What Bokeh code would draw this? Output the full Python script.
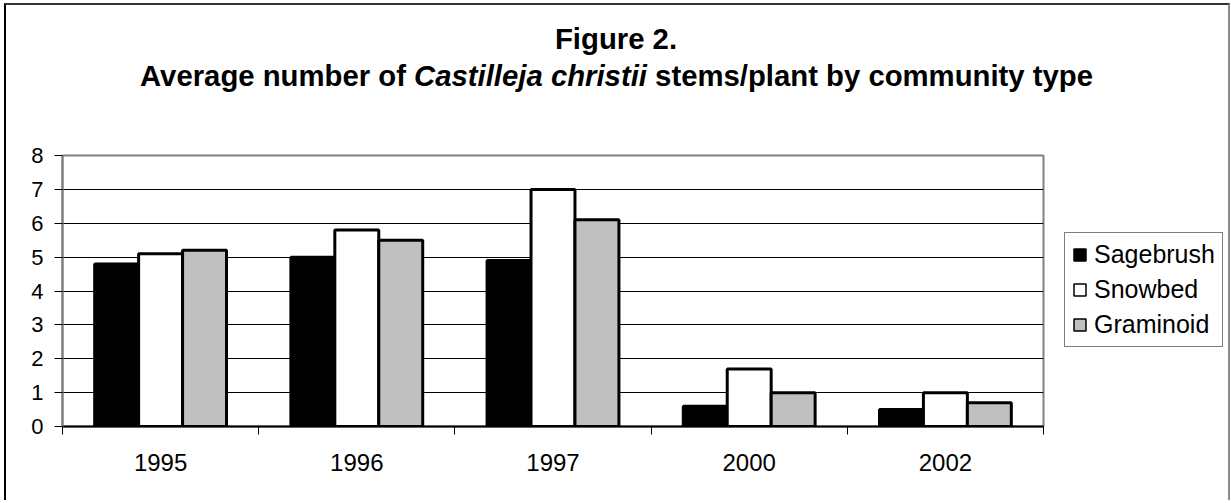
import numpy as np
from bokeh.plotting import figure
from bokeh.layouts import column, row
from bokeh.models import Range1d, FixedTicker, Label, Legend, LegendItem
from bokeh.embed import file_html
from bokeh.resources import INLINE

years = ["1995", "1996", "1997", "2000", "2002"]
sagebrush = [4.8, 5.0, 4.9, 0.6, 0.5]
snowbed = [5.1, 5.8, 7.0, 1.7, 1.0]
graminoid = [5.2, 5.5, 6.1, 1.0, 0.7]
series_names = ["Sagebrush", "Snowbed", "Graminoid"]
series_colors = ["#000000", "#ffffff", "#c0c0c0"]
y_ticks = [0, 1, 2, 3, 4, 5, 6, 7, 8]
title_line1 = "Figure 2."
title_pre, title_italic, title_post = "Average number of", "Castilleja christii", "stems/plant by community type"

FONT = "Liberation Sans"
X0, Y0 = 6, 5            # page position of the content (inside the frame border)
CW = 1222                # content width
TH = 120                 # title strip height
CH = 375                 # chart strip height
CHART_W = 1042

series = [sagebrush, snowbed, graminoid]
idx = np.arange(len(years)) + 0.5
bw = 0.224

# ---------------- title strip ----------------
t = figure(width=CW, height=TH, output_backend="svg", toolbar_location=None,
           x_range=Range1d(X0, X0 + CW), y_range=Range1d(Y0 + TH, Y0),
           x_axis_type=None, y_axis_type=None, min_border=0)
t.outline_line_color = None
t.grid.visible = False
t.background_fill_color = "white"
t.border_fill_color = "white"

F = 29.3
cx = 615.5
common = dict(text_font=FONT, text_font_size=f"{F}px", text_font_style="bold",
              text_color="black", text_baseline="alphabetic")
t.add_layout(Label(x=cx, y=38, text=title_line1, text_align="center", **common))
c_it = cx - 2.9175 * F
gap = 3.974 * F + 0.278 * F
t.add_layout(Label(x=c_it, y=75, text=title_italic, text_align="center",
                   **{**common, "text_font_style": "bold italic"}))
t.add_layout(Label(x=c_it - gap, y=75, text=title_pre, text_align="right", **common))
t.add_layout(Label(x=c_it + gap, y=75, text=title_post, text_align="left", **common))

# ---------------- chart ----------------
p = figure(width=CHART_W, height=CH, output_backend="svg", toolbar_location=None,
           x_range=Range1d(0, len(years)), y_range=Range1d(0, 8),
           min_border_left=56, min_border_right=5, min_border_top=30, min_border_bottom=74)
p.background_fill_color = "white"
p.border_fill_color = "white"
p.outline_line_color = "#808080"
p.outline_line_width = 2

for k, (vals, col) in enumerate(zip(series, series_colors)):
    p.vbar(x=idx + (k - 1) * bw, top=vals, width=bw, bottom=0,
           fill_color=col, line_color="black", line_width=3)

p.yaxis.ticker = FixedTicker(ticks=y_ticks)
p.yaxis.axis_line_color = "#808080"
p.yaxis.axis_line_width = 2
p.yaxis.major_tick_out = 8
p.yaxis.major_tick_in = 0
p.yaxis.major_tick_line_color = "black"
p.yaxis.minor_tick_line_color = None
p.yaxis.major_label_text_font = FONT
p.yaxis.major_label_text_font_size = "22px"
p.yaxis.major_label_text_color = "black"
p.yaxis.major_label_standoff = 11

p.xaxis.ticker = FixedTicker(ticks=list(idx), minor_ticks=list(range(len(years) + 1)))
p.xaxis.major_label_overrides = {float(x): y for x, y in zip(idx, years)}
p.xaxis.axis_line_color = "black"
p.xaxis.axis_line_width = 2
p.xaxis.major_tick_out = 0
p.xaxis.major_tick_in = 0
p.xaxis.minor_tick_out = 8
p.xaxis.minor_tick_in = 0
p.xaxis.minor_tick_line_color = "black"
p.xaxis.major_label_text_font = FONT
p.xaxis.major_label_text_font_size = "24px"
p.xaxis.major_label_text_color = "black"
p.xaxis.major_label_standoff = 19

p.xgrid.grid_line_color = None
p.ygrid.ticker = FixedTicker(ticks=y_ticks)
p.ygrid.grid_line_color = "black"
p.ygrid.grid_line_width = 1

# ---------------- legend strip ----------------
lf = figure(width=CW - CHART_W, height=CH, output_backend="svg", toolbar_location=None,
            x_range=Range1d(0, 1), y_range=Range1d(0, 1),
            x_axis_type=None, y_axis_type=None, min_border=0)
lf.outline_line_color = None
lf.grid.visible = False
lf.background_fill_color = "white"
lf.border_fill_color = "white"
items = []
for k, (name, vals, col) in enumerate(zip(series_names, series, series_colors)):
    # same series, hidden: only used as the legend's glyph source
    r = lf.vbar(x=idx + (k - 1) * bw, top=vals, width=bw, fill_color=col,
                line_color="black", line_width=1.5, visible=False)
    items.append(LegendItem(label=name, renderers=[r]))
legend = Legend(items=items, location=(16, 79), orientation="vertical")
legend.click_policy = "none"
legend.inactive_fill_alpha = 0
legend.label_text_font = FONT
legend.label_text_font_size = "25px"
legend.label_text_color = "black"
legend.glyph_width = 15
legend.glyph_height = 15
legend.label_height = 26
legend.label_standoff = 7
legend.spacing = 6
legend.padding = 7
legend.margin = 0
legend.border_line_color = "black"
legend.border_line_width = 1
legend.background_fill_alpha = 1
lf.add_layout(legend, "center")

layout = column(t, row(p, lf), margin=(3, 0, 0, 4),
                styles={"border-top": "2px solid #333333", "border-left": "2px solid #000000",
                        "border-right": "2px solid #8c8c8c"})

open("out.html", "w").write(file_html(layout, INLINE))
